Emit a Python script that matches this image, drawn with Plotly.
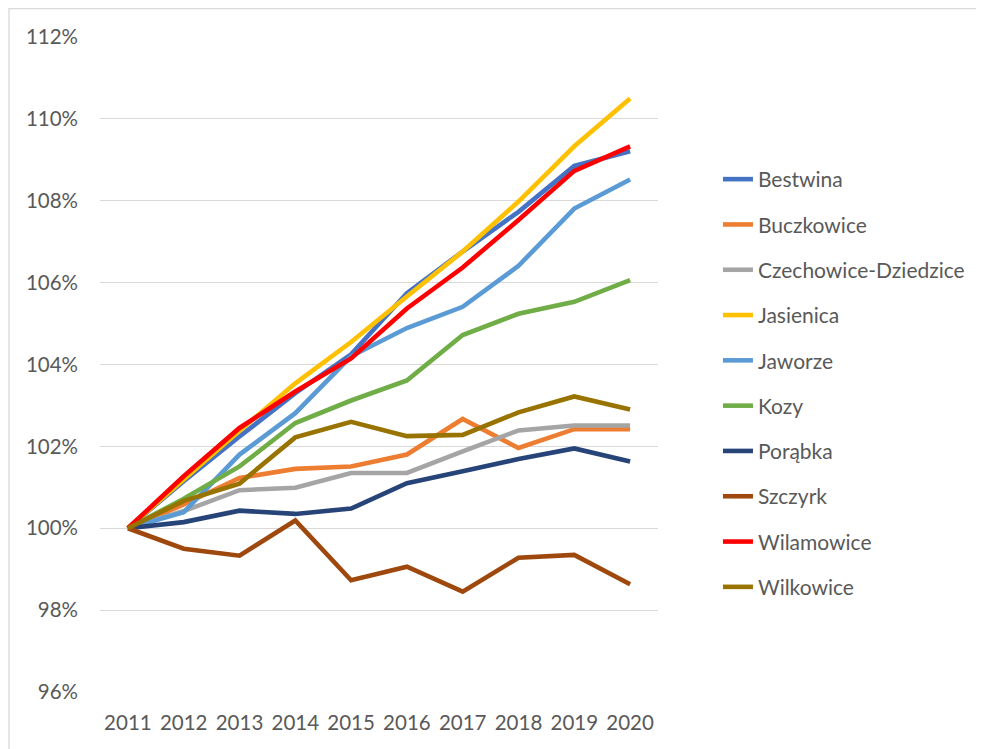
import plotly.graph_objects as go

years = ["2011", "2012", "2013", "2014", "2015", "2016", "2017", "2018", "2019", "2020"]

bestwina     = [100.0, 101.15, 102.24, 103.30, 104.25, 105.74, 106.76, 107.73, 108.85, 109.21]
buczkowice   = [100.0, 100.58, 101.23, 101.45, 101.51, 101.80, 102.67, 101.96, 102.42, 102.42]
czechowice   = [100.0, 100.42, 100.93, 100.99, 101.35, 101.35, 101.88, 102.39, 102.51, 102.51]
jasienica    = [100.0, 101.20, 102.38, 103.54, 104.55, 105.66, 106.76, 107.98, 109.33, 110.50]
jaworze      = [100.0, 100.39, 101.80, 102.81, 104.20, 104.89, 105.41, 106.41, 107.81, 108.52]
kozy         = [100.0, 100.72, 101.51, 102.57, 103.12, 103.61, 104.72, 105.24, 105.53, 106.06]
porabka      = [100.0, 100.15, 100.43, 100.35, 100.48, 101.10, 101.39, 101.69, 101.95, 101.63]
szczyrk      = [100.0, 99.50, 99.33, 100.19, 98.73, 99.06, 98.45, 99.28, 99.35, 98.63]
wilamowice   = [100.0, 101.27, 102.45, 103.34, 104.15, 105.37, 106.37, 107.53, 108.73, 109.33]
wilkowice    = [100.0, 100.67, 101.09, 102.22, 102.60, 102.25, 102.28, 102.83, 103.22, 102.90]

series_names = ["Bestwina", "Buczkowice", "Czechowice-Dziedzice", "Jasienica", "Jaworze",
                "Kozy", "Porąbka", "Szczyrk", "Wilamowice", "Wilkowice"]
series_values = [bestwina, buczkowice, czechowice, jasienica, jaworze,
                 kozy, porabka, szczyrk, wilamowice, wilkowice]
series_colors = ["#4472C4", "#ED7D31", "#A5A5A5", "#FFC000", "#5B9BD5",
                 "#70AD47", "#264478", "#9E480E", "#FF0000", "#997300"]

y_ticks = [96, 98, 100, 102, 104, 106, 108, 110, 112]
y_tick_labels = [f"{v}%" for v in y_ticks]

FONT = "Lato"
TXT = "#595959"

L, R, T, B = 92, 334, 29, 65
PW = 984 - L - R
PH = 749 - T - B

fig = go.Figure()
for name, vals, col in zip(series_names, series_values, series_colors):
    fig.add_trace(go.Scatter(
        x=years, y=vals, name=name, mode="lines", legendgroup=name,
        line=dict(color=col, width=4.6, shape="linear"),
    ))

fig.update_layout(
    width=984, height=749,
    margin=dict(l=L, r=R, t=T, b=B, autoexpand=False),
    paper_bgcolor="white", plot_bgcolor="white",
    font=dict(family=FONT, size=20, color=TXT),
    showlegend=True,
    legend=dict(
        xref="container", yref="container",
        x=0.7215, y=0.7984, xanchor="left", yanchor="top",
        font=dict(family=FONT, size=21, color=TXT),
        tracegroupgap=15, bgcolor="rgba(0,0,0,0)", maxheight=700,
    ),
    xaxis=dict(
        type="category", range=[-0.5, 9.5], showgrid=False, zeroline=False,
        showline=False, ticks="", ticklabelstandoff=16, automargin=False,
        tickfont=dict(family=FONT, size=20.5, color=TXT),
    ),
    yaxis=dict(
        range=[96, 112], tickmode="array", tickvals=y_ticks, ticktext=y_tick_labels,
        showgrid=True, gridcolor="#D9D9D9", gridwidth=1.3, zeroline=False,
        showline=False, ticks="", ticklabelstandoff=21, automargin=False,
        tickfont=dict(family=FONT, size=20.5, color=TXT),
    ),
    shapes=[dict(
        type="rect", xref="paper", yref="paper",
        x0=(1 - L) / PW, x1=(990 - L) / PW,
        y0=(-20 - B) / PH, y1=(749 - B - 0.5) / PH,
        line=dict(color="#D9D9D9", width=1.3), fillcolor="rgba(0,0,0,0)", layer="below",
    )],
)

fig.write_html("out.html")
